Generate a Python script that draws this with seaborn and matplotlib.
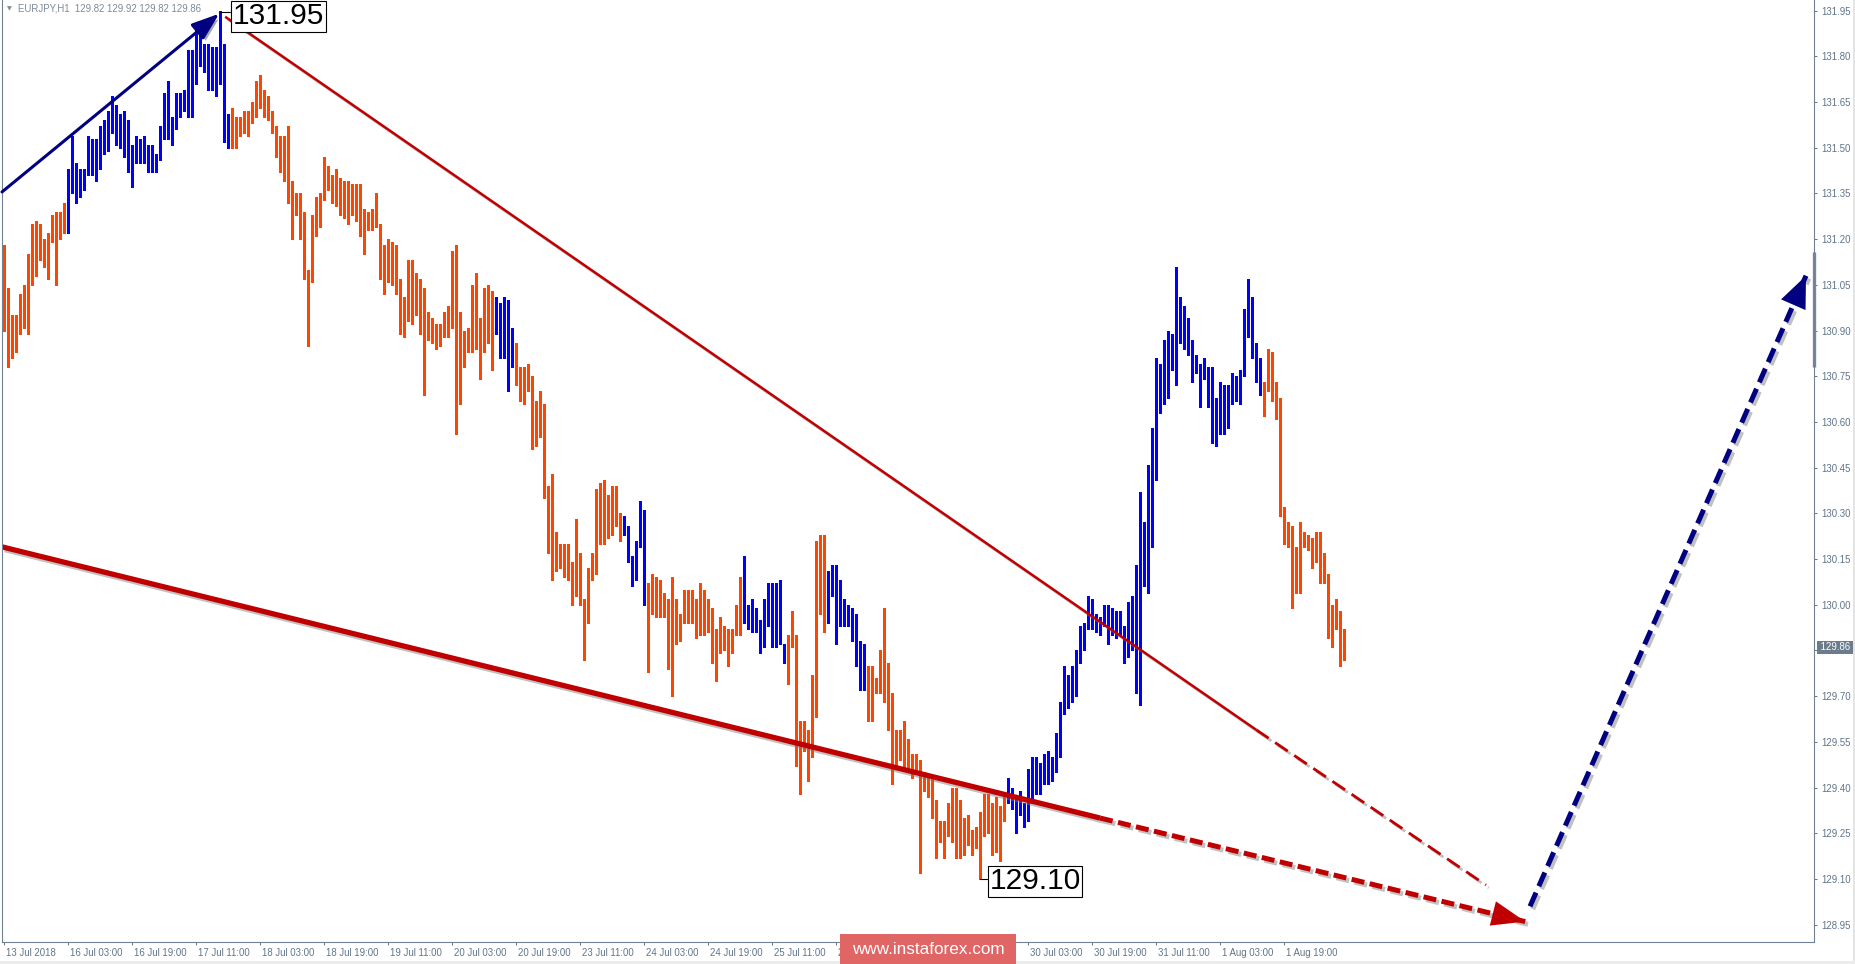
import matplotlib
matplotlib.use("Agg")
import matplotlib.pyplot as plt
import matplotlib.patheffects as pe
from matplotlib.patches import Rectangle
from matplotlib.transforms import ScaledTranslation
import numpy as np
import pandas as pd
import seaborn as sns

# EURJPY H1 bars (13 Jul 2018 11:00 ... 2 Aug 2018), high / low per bar
highs = [
    131.18, 131.04, 130.95, 130.95, 131.02, 131.05, 131.15, 131.25, 131.26, 131.25, 131.20, 131.22,
    131.28, 131.29, 131.29, 131.32, 131.43, 131.54, 131.45, 131.43, 131.43, 131.54, 131.53, 131.53,
    131.57, 131.59, 131.62, 131.67, 131.64, 131.61, 131.62, 131.59, 131.51, 131.54, 131.53, 131.54,
    131.51, 131.51, 131.48, 131.57, 131.68, 131.72, 131.60, 131.68, 131.68, 131.69, 131.82, 131.82,
    131.91, 131.90, 131.84, 131.84, 131.83, 131.83, 131.95, 131.84, 131.61, 131.63, 131.60, 131.60,
    131.62, 131.62, 131.65, 131.72, 131.74, 131.69, 131.67, 131.62, 131.57, 131.54, 131.54, 131.57,
    131.39, 131.35, 131.35, 131.29, 131.10, 131.28, 131.34, 131.35, 131.47, 131.44, 131.41, 131.43,
    131.40, 131.39, 131.39, 131.38, 131.38, 131.38, 131.30, 131.29, 131.30, 131.35, 131.25, 131.18,
    131.20, 131.19, 131.18, 131.07, 131.01, 131.13, 131.13, 131.09, 131.07, 131.04, 130.96, 130.94,
    130.92, 130.92, 130.96, 130.98, 131.16, 131.18, 130.96, 130.90, 130.91, 131.05, 131.09, 130.94,
    131.04, 131.05, 131.03, 131.01, 130.99, 131.01, 131.00, 130.91, 130.86, 130.78, 130.78, 130.79,
    130.75, 130.67, 130.70, 130.66, 130.39, 130.43, 130.24, 130.20, 130.20, 130.20, 130.14, 130.28,
    130.17, 130.02, 130.12, 130.17, 130.38, 130.40, 130.41, 130.36, 130.39, 130.39, 130.30, 130.29,
    130.26, 130.16, 130.21, 130.34, 130.31, 130.07, 130.10, 130.09, 130.08, 130.04, 130.02, 130.09,
    130.02, 129.97, 130.05, 130.05, 130.05, 130.02, 130.07, 130.05, 130.02, 129.99, 129.92, 129.96,
    129.93, 129.92, 129.92, 130.00, 130.09, 130.16, 130.00, 130.02, 129.99, 129.95, 130.02, 130.07,
    130.07, 130.07, 130.08, 129.87, 129.90, 129.98, 129.90, 129.62, 129.62, 129.59, 129.77, 130.21,
    130.23, 130.23, 130.11, 130.13, 130.13, 130.08, 130.02, 130.00, 129.99, 129.97, 129.88, 129.87,
    129.80, 129.80, 129.76, 129.85, 129.99, 129.81, 129.71, 129.59, 129.59, 129.62, 129.56, 129.51,
    129.51, 129.49, 129.45, 129.43, 129.43, 129.36, 129.29, 129.29, 129.35, 129.40, 129.40, 129.36,
    129.30, 129.31, 129.26, 129.27, 129.32, 129.38, 129.38, 129.35, 129.37, 129.34, 129.38, 129.43,
    129.40, 129.37, 129.39, 129.35, 129.46, 129.50, 129.50, 129.48, 129.51, 129.52, 129.50, 129.58,
    129.68, 129.80, 129.77, 129.80, 129.85, 129.93, 129.94, 130.03, 130.02, 129.97, 129.96, 130.00,
    130.00, 129.99, 129.98, 129.98, 129.93, 130.01, 130.03, 130.13, 130.37, 130.27, 130.46, 130.58,
    130.81, 130.79, 130.87, 130.90, 130.89, 131.11, 131.01, 130.98, 130.94, 130.87, 130.82, 130.79,
    130.81, 130.78, 130.78, 130.68, 130.73, 130.72, 130.72, 130.76, 130.75, 130.77, 130.97, 131.07,
    131.01, 130.86, 130.81, 130.73, 130.84, 130.83, 130.73, 130.68, 130.32, 130.27, 130.26, 130.19,
    130.27, 130.24, 130.23, 130.22, 130.24, 130.24, 130.17, 130.10, 130.00, 130.02, 129.98, 129.92,
]
lows = [
    130.90, 130.78, 130.81, 130.83, 130.89, 130.91, 130.89, 131.05, 131.08, 131.13, 131.11, 131.07,
    131.19, 131.05, 131.20, 131.22, 131.22, 131.35, 131.32, 131.34, 131.36, 131.41, 131.41, 131.39,
    131.43, 131.48, 131.49, 131.55, 131.51, 131.50, 131.47, 131.42, 131.37, 131.45, 131.45, 131.45,
    131.42, 131.42, 131.42, 131.46, 131.53, 131.53, 131.51, 131.56, 131.60, 131.62, 131.60, 131.60,
    131.71, 131.77, 131.75, 131.69, 131.69, 131.67, 131.71, 131.52, 131.50, 131.50, 131.50, 131.54,
    131.55, 131.54, 131.58, 131.60, 131.63, 131.60, 131.59, 131.55, 131.47, 131.42, 131.39, 131.32,
    131.20, 131.28, 131.20, 131.07, 130.85, 131.06, 131.21, 131.24, 131.33, 131.36, 131.32, 131.31,
    131.28, 131.27, 131.25, 131.28, 131.26, 131.21, 131.15, 131.23, 131.23, 131.24, 131.07, 131.02,
    131.06, 131.05, 131.02, 130.89, 130.88, 130.93, 130.92, 130.95, 130.89, 130.69, 130.87, 130.86,
    130.84, 130.85, 130.88, 130.88, 130.91, 130.56, 130.66, 130.78, 130.83, 130.83, 130.84, 130.74,
    130.83, 130.86, 130.77, 130.89, 130.81, 130.81, 130.70, 130.78, 130.72, 130.67, 130.66, 130.70,
    130.51, 130.52, 130.55, 130.35, 130.17, 130.08, 130.11, 130.12, 130.09, 130.08, 130.00, 130.03,
    130.00, 129.82, 129.94, 130.08, 130.10, 130.20, 130.20, 130.22, 130.23, 130.26, 130.21, 130.23,
    130.14, 130.06, 130.08, 130.19, 130.00, 129.78, 129.97, 129.96, 129.96, 129.96, 129.79, 129.70,
    129.87, 129.88, 129.94, 129.94, 129.94, 129.89, 129.90, 129.90, 129.91, 129.81, 129.75, 129.84,
    129.85, 129.80, 129.84, 129.90, 129.90, 129.94, 129.92, 129.91, 129.91, 129.84, 129.86, 129.93,
    129.86, 129.86, 129.87, 129.81, 129.74, 129.86, 129.47, 129.38, 129.52, 129.42, 129.50, 129.63,
    129.97, 129.91, 129.94, 130.03, 129.87, 129.93, 129.93, 129.93, 129.88, 129.80, 129.72, 129.72,
    129.62, 129.62, 129.71, 129.71, 129.68, 129.59, 129.41, 129.47, 129.49, 129.46, 129.45, 129.43,
    129.45, 129.12, 129.39, 129.37, 129.30, 129.17, 129.22, 129.17, 129.24, 129.22, 129.17, 129.17,
    129.18, 129.21, 129.18, 129.20, 129.10, 129.24, 129.25, 129.18, 129.19, 129.16, 129.29, 129.35,
    129.33, 129.25, 129.31, 129.27, 129.29, 129.35, 129.38, 129.38, 129.41, 129.41, 129.42, 129.45,
    129.50, 129.64, 129.66, 129.68, 129.70, 129.81, 129.85, 129.92, 129.92, 129.91, 129.90, 129.93,
    129.87, 129.90, 129.89, 129.90, 129.81, 129.83, 129.85, 129.71, 129.67, 130.06, 130.04, 130.19,
    130.41, 130.63, 130.66, 130.68, 130.77, 130.72, 130.86, 130.84, 130.82, 130.73, 130.76, 130.65,
    130.74, 130.65, 130.53, 130.52, 130.56, 130.56, 130.58, 130.66, 130.67, 130.66, 130.75, 130.88,
    130.81, 130.73, 130.69, 130.62, 130.70, 130.67, 130.61, 130.29, 130.20, 130.19, 129.99, 130.04,
    130.04, 130.19, 130.18, 130.12, 130.14, 130.07, 130.07, 129.89, 129.86, 129.92, 129.80, 129.82,
]

# wave colouring of the bars: run lengths, alternating down / up
wave_runs = [16, 41, 66, 5, 27, 6, 24, 11, 10, 10, 35, 64, 21]

price_ticks = [131.95, 131.80, 131.65, 131.50, 131.35, 131.20, 131.05, 130.90, 130.75,
               130.60, 130.45, 130.30, 130.15, 130.00, 129.85, 129.70, 129.55, 129.40,
               129.25, 129.10, 128.95]
# labels every 16 bars; the two fully under the watermark are not visible
time_labels = ["13 Jul 2018", "16 Jul 03:00", "16 Jul 19:00", "17 Jul 11:00", "18 Jul 03:00",
               "18 Jul 19:00", "19 Jul 11:00", "20 Jul 03:00", "20 Jul 19:00", "23 Jul 11:00",
               "24 Jul 03:00", "24 Jul 19:00", "25 Jul 11:00", "26 Jul 03:00", "",
               "", "30 Jul 03:00", "30 Jul 19:00", "31 Jul 11:00", "1 Aug 03:00",
               "1 Aug 19:00"]
last_price = 129.86
header = "EURJPY,H1  129.82 129.92 129.82 129.86"
peak_label, trough_label = "131.95", "129.10"

# analyst lines as (bar index, price)
up_arrow_x, up_arrow_y = [-0.5, 53.8], [131.355, 131.94]
resist_x, resist_y = [55.3, 313, 370.5], [131.93, 129.59, 129.08]
support_x, support_y = [-0.5, 274, 380.3], [130.19, 129.30, 128.96]
target_x, target_y = [381.5, 450.5], [129.01, 131.08]

BLUE, ORANGE = "#0000ff", "#ff4500"
NAVY, RED = "#000080", "#c00000"
GREY = "#5f7489"

sns.set_theme(style="white")
plt.rcParams["font.family"] = ["Liberation Sans", "DejaVu Sans"]

bars = pd.DataFrame({"bar": np.arange(len(highs)), "high": highs, "low": lows})
bars["wave"] = np.repeat(["down", "up"] * 7, wave_runs + [0])[:len(bars)]

fig = plt.figure(figsize=(18.56, 9.64), dpi=100)
ax = fig.add_axes([2 / 1856, 22 / 964, 1812 / 1856, 942 / 964])
ax.set_facecolor("white")

for wave, color in [("down", ORANGE), ("up", BLUE)]:
    sub = bars[bars["wave"] == wave]
    ax.vlines(sub["bar"], sub["low"], sub["high"], color=color, lw=2.1, antialiased=False)

shadow = [pe.SimpleLineShadow(offset=(2, -2), shadow_color="#777777", alpha=0.45), pe.Normal()]

# resistance line (thin red), solid then dashed
ax.plot(resist_x[:2], resist_y[:2], color=RED, lw=1.8, path_effects=shadow, solid_capstyle="butt")
ax.plot(resist_x[1:], resist_y[1:], color=RED, lw=2.0, dashes=(5.5, 2.8), path_effects=shadow)

# support line (thick red), solid then dashed with arrow
ax.plot(support_x[:2], support_y[:2], color=RED, lw=3.8, path_effects=shadow, solid_capstyle="butt")
ax.plot(support_x[1:], support_y[1:], color=RED, lw=3.6, dashes=(2.6, 1.1), path_effects=shadow)
ax.annotate("", xy=(support_x[2], support_y[2]), xytext=(support_x[2] - 10, support_y[2] + 0.033),
            arrowprops=dict(arrowstyle="-|>,head_length=2.0,head_width=0.75", color=RED, lw=0,
                            shrinkA=0, shrinkB=0))

# first rising wave arrow
ax.annotate("", xy=(up_arrow_x[1], up_arrow_y[1]), xytext=(up_arrow_x[0], up_arrow_y[0]),
            arrowprops=dict(arrowstyle="-|>,head_length=1.4,head_width=0.5", color=NAVY, lw=2.2,
                            shrinkA=0, shrinkB=0,
                            path_effects=[pe.SimplePatchShadow(offset=(2, -2), alpha=0.35), pe.Normal()]))

# expected rise, dashed navy with arrow
ax.plot(target_x, target_y, color=NAVY, lw=3.6, dashes=(3, 1.4), path_effects=shadow)
ax.annotate("", xy=(target_x[1], target_y[1]), xytext=(target_x[1] - 5.5, target_y[1] - 0.165),
            arrowprops=dict(arrowstyle="-|>,head_length=1.9,head_width=0.8", color=NAVY, lw=0,
                            shrinkA=0, shrinkB=0))

# price labels at the extremes
ax.plot([54, 56.6], [131.945, 131.945], color="black", lw=0.8)
ax.text(57.2, 131.932, peak_label, fontsize=21.5, ha="left", va="center", color="black",
        bbox=dict(boxstyle="square,pad=0.05", fc="white", ec="black", lw=0.8))
ax.plot([244, 245.8], [129.10, 129.10], color="black", lw=0.8)
ax.text(246.4, 129.092, trough_label, fontsize=21.5, ha="left", va="center", color="black",
        bbox=dict(boxstyle="square,pad=0.05", fc="white", ec="black", lw=0.8))

ax.set_xlim(-0.5, 452.5)
ax.set_ylim(128.893, 131.985)

ax.yaxis.tick_right()
ax.set_yticks(price_ticks)
ax.set_yticklabels([f"{p:.2f}" if abs(p - last_price) > 0.05 else "" for p in price_ticks])
ax.tick_params(axis="y", which="both", right=True, left=False, direction="out", length=2.5,
               width=0.7, pad=3, labelsize=6.9, colors=GREY)

ax.set_xticks(np.arange(0, 16 * len(time_labels), 16))
ax.set_xticklabels(time_labels)
ax.tick_params(axis="x", which="both", bottom=True, direction="out", length=2.5, width=0.7,
               pad=1.5, labelsize=6.9, colors=GREY)
for lbl in ax.get_xticklabels():
    lbl.set_horizontalalignment("left")
    lbl.set_transform(lbl.get_transform() + ScaledTranslation(0.02, 0, fig.dpi_scale_trans))

for side in ["left", "right", "bottom"]:
    ax.spines[side].set_color("#6f8193")
    ax.spines[side].set_linewidth(0.8)
ax.spines["top"].set_visible(False)
ax.grid(False)

# scroll thumb on price scale
ax.plot([452.5, 452.5], [131.157, 130.78], color="#7b8896", lw=2.4, clip_on=False,
        solid_capstyle="butt")

# current price box
ax.text(1 + 4 / 1812, last_price, f" {last_price:.2f} ", transform=ax.get_yaxis_transform(),
        fontsize=6.9, color="white", ha="left", va="center",
        bbox=dict(boxstyle="square,pad=0.15", fc="#6b7c8d", ec="none"))

# header
fig.text(7 / 1856, 1 - 8.5 / 964, "\u25bc", fontsize=4.5, color="#7c8a98", va="center",
         family="DejaVu Sans")
fig.text(18 / 1856, 1 - 8.5 / 964, header, fontsize=6.9, color="#7c8a98", va="center")

# frame edges of the terminal window
fig.patches.append(Rectangle((1853 / 1856, 0), 3 / 1856, 1, transform=fig.transFigure,
                             fc="#e4e4e4", ec="none"))
fig.patches.append(Rectangle((0, 0), 1, 3 / 964, transform=fig.transFigure,
                             fc="#ececec", ec="none"))

# watermark
fig.patches.append(Rectangle((840 / 1856, 0), 176 / 1856, 30 / 964, transform=fig.transFigure,
                             fc="#e06666", ec="none", zorder=5))
fig.text(928 / 1856, 15 / 964, "www.instaforex.com", fontsize=12.3, color="white",
         ha="center", va="center", zorder=6)

fig.savefig("out.png", dpi=100, facecolor="white")
